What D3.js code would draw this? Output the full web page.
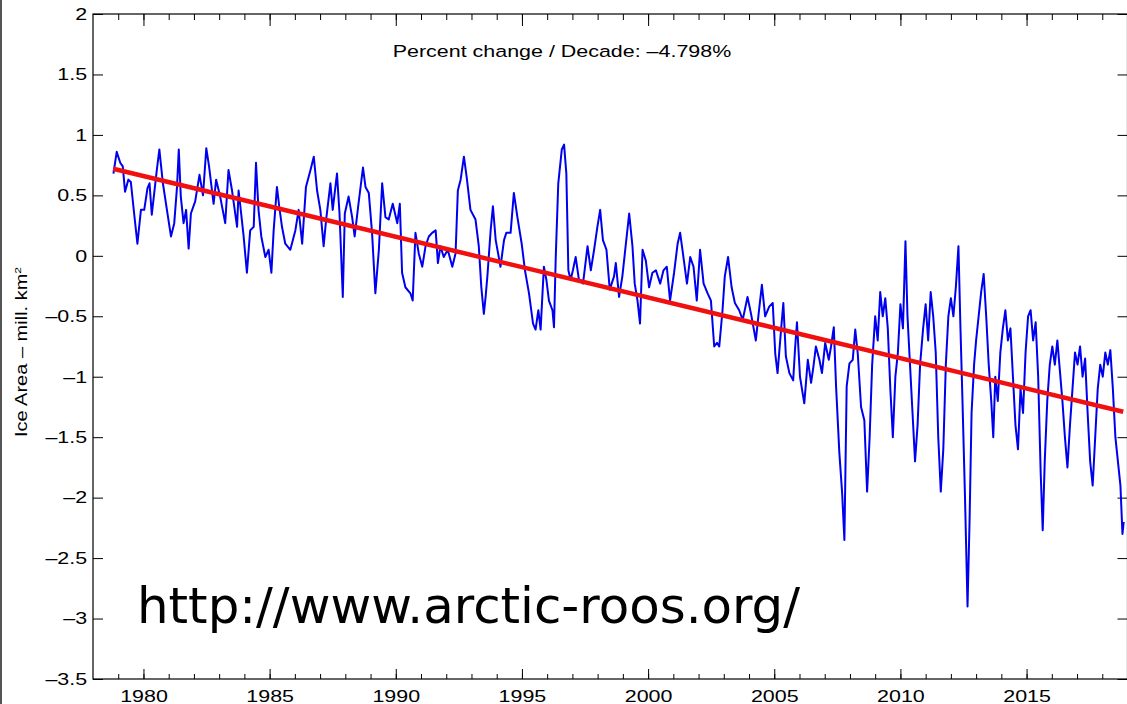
<!DOCTYPE html>
<html>
<head>
<meta charset="utf-8">
<script src="https://cdn.jsdelivr.net/npm/d3@7"></script>
<style>
  body { margin: 0; background: #fff; }
  svg { display: block; }
</style>
</head>
<body>
<div id="chart"></div>
<script>
// sea ice area anomaly
const years = [
  1978.81,1978.94,1979.08,1979.18,1979.27,1979.40,1979.50,1979.63,1979.76,1979.90,
  1980.03,1980.16,1980.24,1980.33,1980.53,1980.63,1980.77,1980.93,1981.09,1981.22,
  1981.33,1981.40,1981.48,1981.59,1981.69,1981.79,1981.88,1982.05,1982.22,1982.36,
  1982.49,1982.60,1982.78,1982.88,1983.04,1983.24,1983.37,1983.51,1983.71,1983.77,
  1983.84,1983.97,1984.10,1984.23,1984.37,1984.46,1984.56,1984.67,1984.83,1984.96,
  1985.07,1985.16,1985.29,1985.38,1985.49,1985.62,1985.82,1986.02,1986.15,1986.29,
  1986.44,1986.62,1986.75,1986.88,1987.01,1987.14,1987.24,1987.41,1987.50,1987.67,
  1987.77,1987.90,1987.98,1988.13,1988.27,1988.37,1988.51,1988.70,1988.80,1988.93,
  1989.06,1989.19,1989.33,1989.46,1989.59,1989.72,1989.88,1990.06,1990.16,1990.25,
  1990.38,1990.58,1990.67,1990.78,1990.91,1991.05,1991.18,1991.31,1991.44,1991.58,
  1991.67,1991.77,1991.90,1992.06,1992.24,1992.37,1992.46,1992.57,1992.70,1992.81,
  1992.96,1993.16,1993.29,1993.39,1993.49,1993.56,1993.63,1993.76,1993.85,1993.96,
  1994.15,1994.29,1994.38,1994.55,1994.68,1994.82,1994.99,1995.12,1995.28,1995.44,
  1995.54,1995.65,1995.74,1995.87,1995.97,1996.07,1996.21,1996.27,1996.34,1996.44,
  1996.58,1996.67,1996.76,1996.84,1996.93,1997.02,1997.13,1997.26,1997.42,1997.60,
  1997.73,1997.86,1997.99,1998.10,1998.21,1998.35,1998.48,1998.65,1998.72,1998.85,
  1998.98,1999.12,1999.25,1999.38,1999.47,1999.58,1999.68,1999.78,1999.91,2000.04,
  2000.17,2000.31,2000.48,2000.61,2000.74,2000.87,2001.03,2001.17,2001.27,2001.40,
  2001.54,2001.67,2001.80,2001.93,2002.06,2002.20,2002.36,2002.49,2002.62,2002.73,
  2002.82,2002.95,2003.04,2003.17,2003.31,2003.44,2003.61,2003.75,2003.94,2004.08,
  2004.27,2004.38,2004.51,2004.64,2004.80,2004.94,2005.04,2005.13,2005.27,2005.36,
  2005.46,2005.60,2005.75,2005.83,2005.90,2006.02,2006.19,2006.33,2006.46,2006.55,
  2006.65,2006.79,2006.89,2007.02,2007.16,2007.25,2007.36,2007.45,2007.58,2007.69,
  2007.78,2007.87,2007.98,2008.11,2008.21,2008.31,2008.44,2008.57,2008.68,2008.78,
  2008.88,2009.00,2009.10,2009.20,2009.30,2009.40,2009.50,2009.60,2009.70,2009.80,
  2009.90,2010.00,2010.10,2010.20,2010.28,2010.38,2010.48,2010.58,2010.68,2010.78,
  2010.90,2011.00,2011.10,2011.20,2011.30,2011.40,2011.50,2011.60,2011.70,2011.80,
  2011.90,2012.00,2012.10,2012.20,2012.30,2012.38,2012.46,2012.56,2012.66,2012.74,
  2012.82,2012.92,2013.00,2013.10,2013.20,2013.30,2013.40,2013.50,2013.60,2013.68,
  2013.76,2013.86,2013.96,2014.06,2014.16,2014.26,2014.36,2014.46,2014.56,2014.66,
  2014.76,2014.86,2014.96,2015.06,2015.16,2015.26,2015.36,2015.46,2015.56,2015.64,
  2015.72,2015.82,2015.92,2016.02,2016.12,2016.22,2016.32,2016.42,2016.52,2016.62,
  2016.72,2016.82,2016.92,2017.02,2017.12,2017.22,2017.32,2017.42,2017.52,2017.62,
  2017.72,2017.82,2017.92,2018.02,2018.12,2018.22,2018.32,2018.42,2018.52,2018.62,
  2018.72,2018.80,2018.85
];
const anomaly = [
  0.68,0.86,0.77,0.74,0.53,0.63,0.61,0.35,0.10,0.38,
  0.38,0.56,0.60,0.34,0.71,0.88,0.60,0.38,0.16,0.27,
  0.57,0.88,0.49,0.27,0.38,0.06,0.35,0.45,0.67,0.50,
  0.89,0.74,0.43,0.63,0.49,0.27,0.71,0.54,0.24,0.54,
  0.41,0.16,-0.14,0.21,0.24,0.77,0.38,0.16,-0.01,0.05,
  -0.14,0.21,0.57,0.41,0.24,0.10,0.05,0.21,0.38,0.10,
  0.57,0.71,0.82,0.54,0.38,0.08,0.30,0.60,0.38,0.68,
  0.35,-0.34,0.35,0.49,0.32,0.16,0.41,0.73,0.57,0.52,
  0.19,-0.31,0.05,0.60,0.32,0.30,0.43,0.27,0.43,-0.14,
  -0.26,-0.31,-0.37,0.19,0.02,-0.09,0.08,0.16,0.19,0.21,
  -0.06,0.08,-0.01,0.05,-0.09,0.02,0.54,0.63,0.82,0.65,
  0.38,0.30,0.08,-0.26,-0.48,-0.34,-0.17,0.21,0.41,0.13,
  -0.09,0.13,0.19,0.19,0.52,0.32,0.10,-0.12,-0.31,-0.56,
  -0.61,-0.45,-0.61,-0.09,-0.20,-0.37,-0.45,-0.59,-0.01,0.60,
  0.88,0.92,0.68,-0.12,-0.20,-0.12,-0.01,-0.20,-0.23,0.08,
  -0.12,0.05,0.24,0.38,0.13,0.05,-0.28,-0.17,-0.06,-0.34,
  -0.17,0.10,0.35,0.08,-0.23,-0.37,-0.56,0.05,-0.04,-0.26,
  -0.14,-0.12,-0.23,-0.12,-0.09,-0.37,-0.14,0.10,0.19,-0.01,
  -0.23,-0.01,-0.09,-0.37,0.05,-0.23,-0.31,-0.37,-0.75,-0.72,
  -0.75,-0.45,-0.17,-0.01,-0.26,-0.39,-0.45,-0.53,-0.34,-0.48,
  -0.70,-0.48,-0.24,-0.50,-0.42,-0.39,-0.81,-0.97,-0.61,-0.39,
  -0.83,-0.97,-1.03,-0.75,-0.55,-1.00,-1.22,-0.86,-1.05,-0.92,
  -0.75,-0.86,-0.97,-0.72,-0.86,-0.75,-0.59,-1.08,-1.63,-1.96,
  -2.35,-1.08,-0.89,-0.86,-0.61,-0.81,-1.25,-1.36,-1.95,-1.50,
  -0.90,-0.50,-0.70,-0.30,-0.50,-0.35,-0.60,-1.10,-1.50,-1.00,
  -0.80,-0.40,-0.60,0.12,-0.50,-0.90,-1.30,-1.70,-1.40,-0.90,
  -0.60,-0.40,-0.70,-0.30,-0.50,-0.80,-1.50,-1.95,-1.60,-0.90,
  -0.50,-0.35,-0.50,-0.25,0.08,-0.60,-1.20,-2.00,-2.90,-2.20,
  -1.30,-0.90,-0.70,-0.50,-0.30,-0.15,-0.50,-0.90,-1.20,-1.50,
  -1.00,-1.20,-0.80,-0.60,-0.45,-0.70,-0.60,-1.00,-1.40,-1.60,
  -1.10,-1.30,-0.80,-0.50,-0.45,-0.70,-0.55,-1.00,-1.80,-2.27,
  -1.70,-1.20,-0.90,-0.75,-0.90,-0.70,-0.95,-1.20,-1.50,-1.75,
  -1.40,-1.10,-0.80,-0.90,-0.75,-1.00,-0.85,-1.30,-1.70,-1.90,
  -1.50,-1.10,-0.90,-1.00,-0.80,-0.90,-0.78,-1.10,-1.50,-1.70,
  -1.90,-2.30,-2.20
];
const trendYears = [1978.8, 2018.83];
const trendValues = [0.72, -1.29];

const xMajor = [1980, 1985, 1990, 1995, 2000, 2005, 2010, 2015];
const xMinor = d3.range(1979, 2019);
const yTicks = [2, 1.5, 1, 0.5, 0, -0.5, -1, -1.5, -2, -2.5, -3, -3.5];

const annotation = "Percent change / Decade: \u20134.798%";
const yLabel = "Ice Area \u2013 mill. km";
const source = "http://www.arctic-roos.org/";

const W = 1127, H = 704;
const m = { left: 93, right: 1127.5, top: 14, bottom: 679 };
const stretch = "scale(1.3,1)";

const svg = d3.select("#chart").append("svg")
  .attr("width", W).attr("height", H)
  .style("font-family", "'Liberation Sans', Arial, sans-serif");

svg.append("rect").attr("width", W).attr("height", H).attr("fill", "#fff");
// frame line along the left edge of the picture
svg.append("line").attr("x1", 1).attr("x2", 1).attr("y1", 0).attr("y2", H)
  .attr("stroke", "#555").attr("stroke-width", 2);

const x = d3.scaleLinear().domain([1978, 2019]).range([m.left, m.right]);
const y = d3.scaleLinear().domain([-3.5, 2]).range([m.bottom, m.top]);

const fmt = d => d < 0 ? "\u2013" + Math.abs(d) : String(d);

function styleAxis(g) {
  g.select(".domain").remove();
  g.selectAll("line").attr("stroke", "#000");
  g.selectAll("text").attr("fill", "#000").attr("font-size", 16.5).attr("transform", stretch);
}

// bottom
svg.append("g").attr("transform", "translate(0," + m.bottom + ")")
  .call(d3.axisBottom(x).tickValues(xMinor).tickSize(-5).tickFormat(""))
  .call(styleAxis);
svg.append("g").attr("transform", "translate(0," + m.bottom + ")")
  .call(d3.axisBottom(x).tickValues(xMajor).tickSize(-10).tickPadding(11).tickFormat(d3.format("d")))
  .call(styleAxis);
// top
svg.append("g").attr("transform", "translate(0," + m.top + ")")
  .call(d3.axisTop(x).tickValues(xMinor).tickSize(-6).tickFormat(""))
  .call(styleAxis);
svg.append("g").attr("transform", "translate(0," + m.top + ")")
  .call(d3.axisTop(x).tickValues(xMajor).tickSize(-12).tickFormat(""))
  .call(styleAxis);
// left
svg.append("g").attr("transform", "translate(" + m.left + ",0)")
  .call(d3.axisLeft(y).tickValues(yTicks).tickSize(-10).tickPadding(4.5).tickFormat(fmt))
  .call(styleAxis);
// right
svg.append("g").attr("transform", "translate(" + m.right + ",0)")
  .call(d3.axisRight(y).tickValues(yTicks).tickSize(-10).tickFormat(""))
  .call(styleAxis);

svg.append("rect")
  .attr("x", m.left).attr("y", m.top)
  .attr("width", m.right - m.left).attr("height", m.bottom - m.top)
  .attr("fill", "none").attr("stroke", "#000").attr("stroke-width", 1.2);

const series = years.map((d, i) => [d, anomaly[i]]);
const line = d3.line().x(d => x(d[0])).y(d => y(d[1]));

svg.append("path").datum(series)
  .attr("d", line)
  .attr("fill", "none").attr("stroke", "#0000f0")
  .attr("stroke-width", 2).attr("stroke-linejoin", "round");

svg.append("path").datum(trendYears.map((d, i) => [d, trendValues[i]]))
  .attr("d", line)
  .attr("fill", "none").attr("stroke", "#f01010").attr("stroke-width", 4.5);

svg.append("text")
  .attr("transform", "translate(562,57) " + stretch)
  .attr("text-anchor", "middle").attr("font-size", 16.5)
  .text(annotation);

const yl = svg.append("text")
  .attr("transform", "translate(27,352) rotate(-90) scale(1,0.8)")
  .attr("text-anchor", "middle").attr("font-size", 20);
yl.append("tspan").text(yLabel);
yl.append("tspan").attr("font-size", 12).attr("dy", -8).text("2");

svg.append("text")
  .attr("x", 137).attr("y", 623)
  .attr("font-family", "'DejaVu Sans', Verdana, sans-serif")
  .attr("font-size", 49.5)
  .attr("textLength", 663).attr("lengthAdjust", "spacingAndGlyphs")
  .text(source);
</script>
</body>
</html>
